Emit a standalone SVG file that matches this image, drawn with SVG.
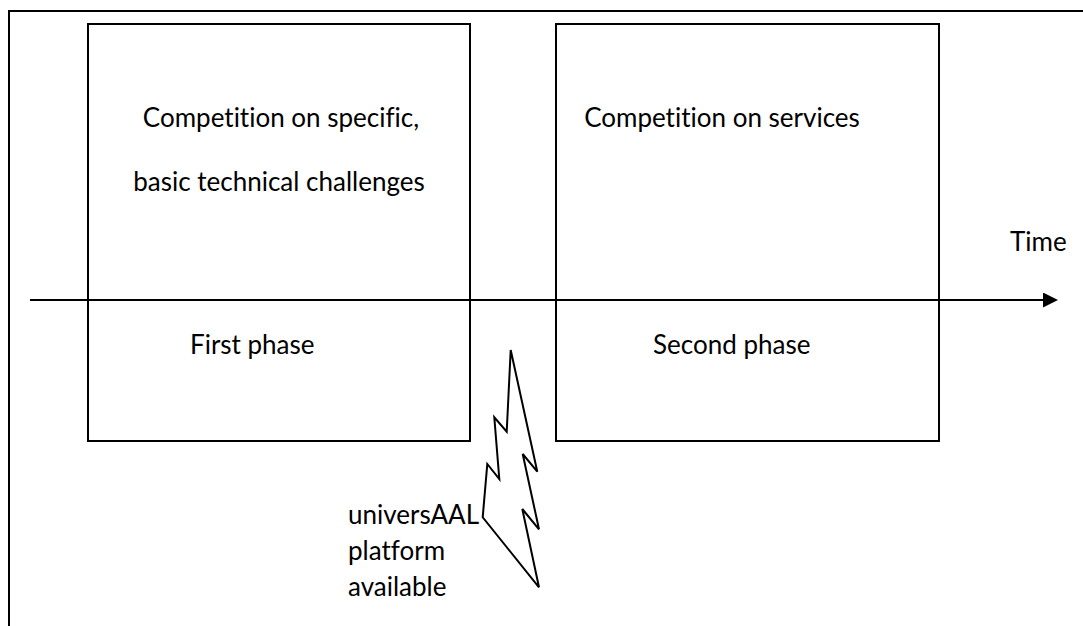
<svg xmlns="http://www.w3.org/2000/svg" width="1083" height="626" viewBox="0 0 1083 626">
<defs>
<style>
.ln{fill:none;stroke:#000;stroke-width:2}
.t{font-family:Lato,"Open Sans",sans-serif;font-size:26px;fill:#000;font-variant-ligatures:none}
</style>
<marker id="ah" markerWidth="15" markerHeight="15" refX="0" refY="7.5" orient="auto" markerUnits="userSpaceOnUse">
<path d="M0,0 L15,7.5 L0,15 Z" fill="#000"/>
</marker>
</defs>
<rect width="1083" height="626" fill="#fff"/>
<path id="frame" class="ln" d="M1084,11 H9 V627"/>
<g id="first-phase">
<rect class="ln" x="88" y="24" width="382" height="417"/>
<text class="t" x="281" y="127" text-anchor="middle">Competition on specific,</text>
<text class="t" x="279" y="191" text-anchor="middle">basic technical challenges</text>
<text class="t" x="190" y="354">First phase</text>
</g>
<g id="second-phase">
<rect class="ln" x="556" y="24" width="383" height="417"/>
<text class="t" x="722" y="127" text-anchor="middle">Competition on services</text>
<text class="t" x="653" y="354">Second phase</text>
</g>
<g id="platform">
<path class="ln" d="M510.7,350 L506.7,431.7 L494.3,417.3 L499.3,479 L487.3,464 L482.7,517.3 L539,587.3 L522.3,509 L539,529.3 L522.7,454 L537.3,471.7 Z" stroke-linejoin="miter"/>
<text class="t" x="348" y="524">universAAL</text>
<text class="t" x="348" y="560">platform</text>
<text class="t" x="348" y="596">available</text>
</g>
<g id="connectors">
<line class="ln" x1="30" y1="300" x2="1043" y2="300" marker-end="url(#ah)"/>
<text class="t" x="1010" y="251">Time</text>
</g>
</svg>
